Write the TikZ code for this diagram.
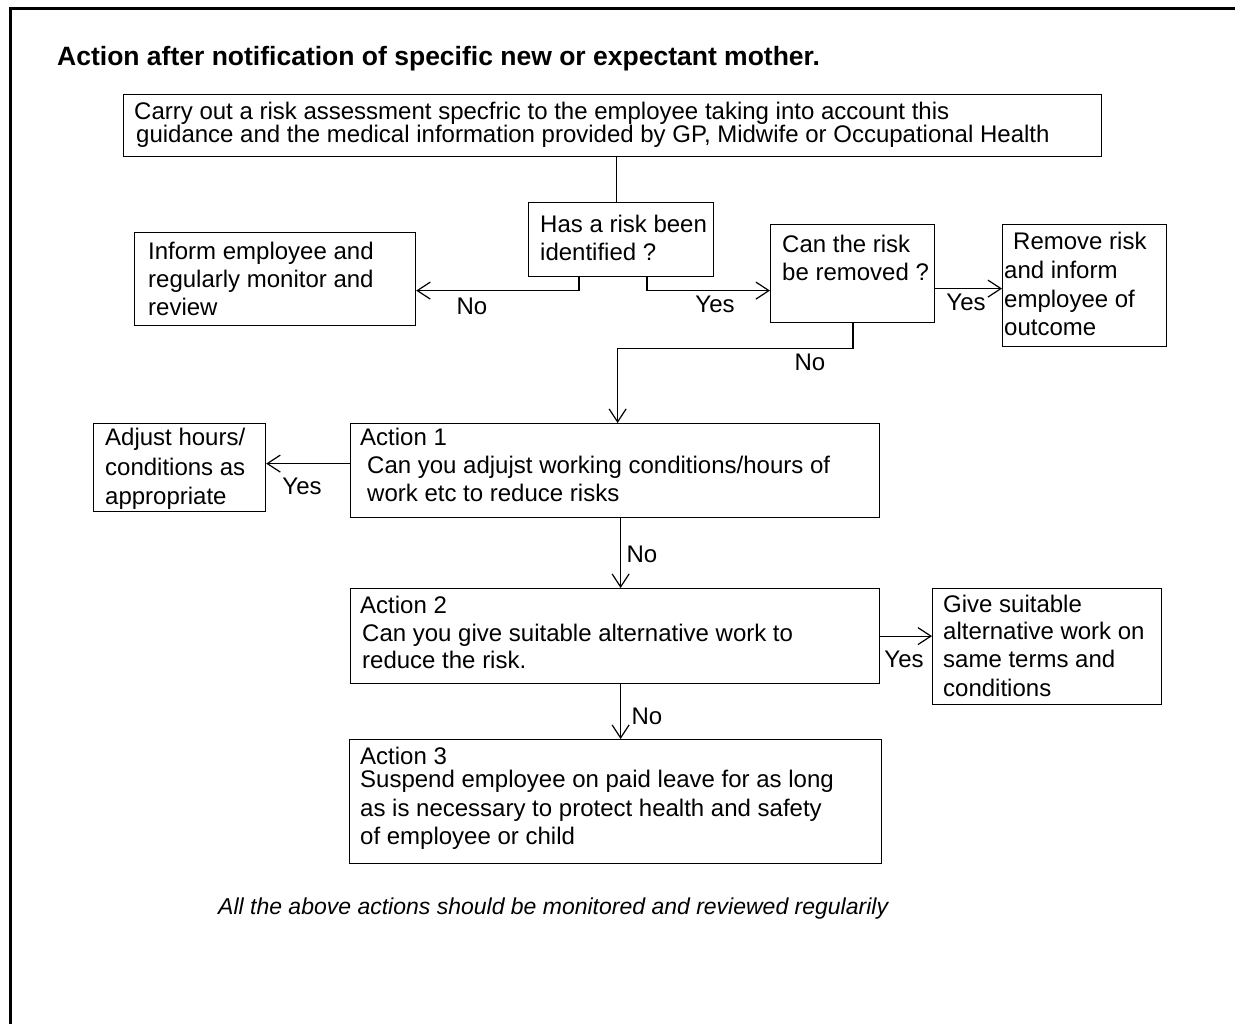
\documentclass[tikz,border=0pt]{standalone}
\usepackage{fontspec}
\setmainfont{Liberation Sans}
\usetikzlibrary{arrows.meta}
\tikzset{
  box/.style={draw=black, line width=1.2pt, anchor=north west, inner sep=0pt, rectangle},
  txt/.style={anchor=base west, inner sep=0pt, font=\fontsize{24}{28}\selectfont},
  lbl/.style={anchor=base, inner sep=0pt, font=\fontsize{24}{28}\selectfont},
  arr/.style={line width=1.2pt, -{Straight Barb[length=13pt, width=17pt, line width=1.2pt]}},
  conn/.style={line width=1.2pt}
}
\begin{document}
\begin{tikzpicture}[x=1pt,y=-1pt]
\useasboundingbox (0,0) rectangle (1235,1024);
% frame
\draw[line width=3pt] (10,1024) -- (10,9) -- (1235,9);
% title
\node[anchor=base west, inner sep=0pt, font=\fontsize{26.5}{30}\selectfont\bfseries] (title) at (57,66) {Action after notification of specific new or expectant mother.};
% boxes
\node[box, minimum width=978pt, minimum height=62pt] (top) at (123,94) {};
\node[box, minimum width=185pt, minimum height=74pt] (has) at (528,202) {};
\node[box, minimum width=281pt, minimum height=93pt] (inform) at (134,232) {};
\node[box, minimum width=164pt, minimum height=98pt] (can) at (770,224) {};
\node[box, minimum width=164pt, minimum height=122pt] (remove) at (1002,224) {};
\node[box, minimum width=529pt, minimum height=94pt] (act1) at (350,423) {};
\node[box, minimum width=172pt, minimum height=88pt] (adjust) at (93,423) {};
\node[box, minimum width=529pt, minimum height=95pt] (act2) at (350,588) {};
\node[box, minimum width=229pt, minimum height=116pt] (give) at (932,588) {};
\node[box, minimum width=532pt, minimum height=124pt] (act3) at (349,739) {};
% texts
\node[txt] (ttop1) at (134,120) {Carry out a risk assessment specfric to the employee taking into account this};
\node[txt] (ttop2) at (136,143) {guidance and the medical information provided by GP, Midwife or Occupational Health};
\node[txt] (thas1) at (540,233) {Has a risk been};
\node[txt] (thas2) at (540,261) {identified ?};
\node[txt] (tinf1) at (148,260) {Inform employee and};
\node[txt] (tinf2) at (148,288) {regularly monitor and};
\node[txt] (tinf3) at (148,316) {review};
\node[txt] (tcan1) at (782,253) {Can the risk};
\node[txt] (tcan2) at (782,281) {be removed ?};
\node[txt] (trem1) at (1013,250) {Remove risk};
\node[txt] (trem2) at (1004,279) {and inform};
\node[txt] (trem3) at (1004,308) {employee of};
\node[txt] (trem4) at (1004,336) {outcome};
\node[txt] (tadj1) at (105,446) {Adjust hours/};
\node[txt] (tadj2) at (105,475) {conditions as};
\node[txt] (tadj3) at (105,504) {appropriate};
\node[txt] (tact1a) at (360,446) {Action 1};
\node[txt] (tact1b) at (367,473) {Can you adjujst working conditions/hours of};
\node[txt] (tact1c) at (367,501) {work etc to reduce risks};
\node[txt] (tact2a) at (360,613) {Action 2};
\node[txt] (tact2b) at (362,641) {Can you give suitable alternative work to};
\node[txt] (tact2c) at (362,668) {reduce the risk.};
\node[txt] (tgive1) at (943,612) {Give suitable};
\node[txt] (tgive2) at (943,639) {alternative work on};
\node[txt] (tgive3) at (943,667) {same terms and};
\node[txt] (tgive4) at (943,696) {conditions};
\node[txt] (tact3a) at (360,764) {Action 3};
\node[txt] (tact3b) at (360,787) {Suspend employee on paid leave for as long};
\node[txt] (tact3c) at (360,816) {as is necessary to protect health and safety};
\node[txt] (tact3d) at (360,844) {of employee or child};
\node[anchor=base west, inner sep=0pt, font=\fontsize{23}{26}\selectfont\itshape] (foot) at (218,914) {All the above actions should be monitored and reviewed regularily};
% connectors
\draw[conn] ([xshift=4pt]top.south) -- ([xshift=4pt]top.south |- has.north);
\draw[arr] ([xshift=51pt]has.south west) |- ([yshift=-11.5pt]inform.east);
\draw[arr] ([xshift=119pt]has.south west) |- ([yshift=-17pt]can.west);
\draw[arr] ([yshift=-15pt]can.east) -- ([yshift=-15pt]can.east -| remove.west);
\draw[arr] ([xshift=83pt]can.south west) -- ++(0,25) -| ([xshift=2.5pt]act1.north);
\draw[arr] ([yshift=7pt]act1.west) -- ([yshift=7pt]act1.west -| adjust.east);
\draw[arr] ([xshift=5.5pt]act1.south) -- ([xshift=5.5pt]act1.south |- act2.north);
\draw[arr] (act2.east) -- (act2.east -| give.west);
\draw[arr] ([xshift=5.5pt]act2.south) -- ([xshift=5.5pt]act2.south |- act3.north);
% labels
\node[lbl] (lno1) at (472,315) {No};
\node[lbl] (lyes1) at (715,313) {Yes};
\node[lbl] (lyes2) at (966,311) {Yes};
\node[lbl] (lno2) at (810,371) {No};
\node[lbl] (lyes3) at (302,494) {Yes};
\node[lbl] (lno3) at (642,562) {No};
\node[lbl] (lyes4) at (904,667) {Yes};
\node[lbl] (lno4) at (647,724) {No};
\end{tikzpicture}
\end{document}
